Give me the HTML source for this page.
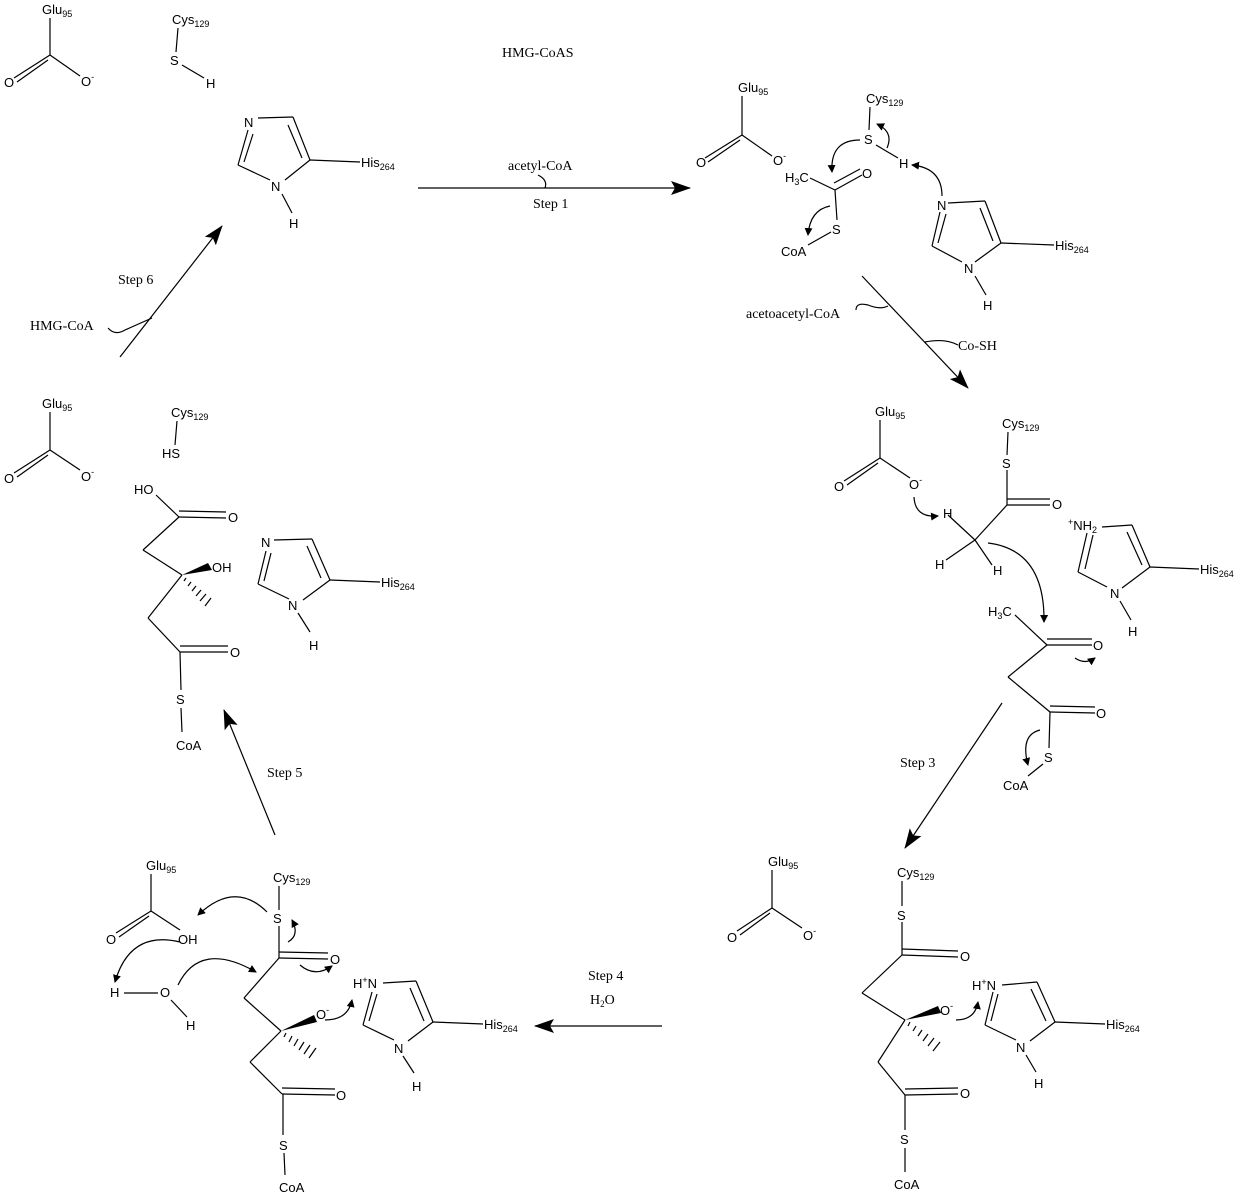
<!DOCTYPE html>
<html><head><meta charset="utf-8"><style>
html,body{margin:0;padding:0;background:#fff}
svg{display:block}
.s{font-family:"Liberation Sans",sans-serif;font-size:13px}
.r{font-family:"Liberation Serif",serif;font-size:14px}
.sub{font-size:9px}
line,polyline,polygon,path{stroke:#000;stroke-width:1.2;fill:none}
.h{fill:#000;stroke:none}
</style></head><body>
<svg width="1240" height="1198" viewBox="0 0 1240 1198" xmlns="http://www.w3.org/2000/svg">
<defs>
<marker id="a" markerWidth="8" markerHeight="8" refX="7" refY="4" orient="auto" markerUnits="userSpaceOnUse"><path d="M0,0 L8,4 L0,8 Z" class="h"/></marker>
<marker id="b" markerWidth="20" markerHeight="14" refX="19" refY="7" orient="auto" markerUnits="userSpaceOnUse"><path d="M0,0 L20,7 L0,14 L4,7 Z" class="h"/></marker>
</defs>

<!-- Panel 1 top-left -->
<text x="42" y="14" class="s">Glu<tspan class="sub" dy="3">95</tspan></text>
<line x1="50" y1="18" x2="50" y2="55"/><line x1="50" y1="55" x2="14" y2="78"/><line x1="48" y1="60" x2="17" y2="82"/><line x1="50" y1="55" x2="80" y2="76"/>
<text x="4" y="87" class="s">O</text><text x="81" y="86" class="s">O<tspan class="sub" dy="-6">-</tspan></text>
<text x="172" y="24" class="s">Cys<tspan class="sub" dy="3">129</tspan></text>
<line x1="178" y1="28" x2="176" y2="52"/><text x="170" y="65" class="s">S</text><line x1="182" y1="65" x2="204" y2="78"/><text x="206" y="88" class="s">H</text>
<text x="502" y="57" class="r">HMG-CoAS</text>
<!-- imidazole 1 -->
<text x="244" y="127" class="s">N</text>
<line x1="258" y1="118" x2="293" y2="117"/><line x1="293" y1="117" x2="310" y2="160"/><line x1="288" y1="125" x2="302" y2="158"/>
<line x1="310" y1="160" x2="285" y2="180"/><line x1="270" y1="180" x2="238" y2="165"/><line x1="238" y1="165" x2="248" y2="130"/><line x1="244" y1="162" x2="253" y2="134"/>
<text x="271" y="191" class="s">N</text><line x1="282" y1="194" x2="292" y2="213"/><text x="289" y="228" class="s">H</text>
<line x1="310" y1="160" x2="360" y2="162"/><text x="361" y="167" class="s">His<tspan class="sub" dy="3">264</tspan></text>

<!-- Step 1 -->
<line x1="418" y1="188" x2="690" y2="188" marker-end="url(#b)"/>
<path d="M538,175 Q548,180 545,188"/>
<text x="508" y="170" class="r">acetyl-CoA</text>
<text x="533" y="208" class="r">Step 1</text>

<!-- Panel 2 -->
<text x="738" y="92" class="s">Glu<tspan class="sub" dy="3">95</tspan></text>
<line x1="742" y1="96" x2="742" y2="135"/><line x1="742" y1="135" x2="705" y2="158"/><line x1="740" y1="140" x2="708" y2="162"/><line x1="742" y1="135" x2="772" y2="156"/>
<text x="696" y="167" class="s">O</text><text x="773" y="165" class="s">O<tspan class="sub" dy="-6">-</tspan></text>
<text x="866" y="103" class="s">Cys<tspan class="sub" dy="3">129</tspan></text>
<line x1="870" y1="107" x2="869" y2="130"/><text x="864" y="144" class="s">S</text><line x1="876" y1="145" x2="898" y2="158"/><text x="899" y="168" class="s">H</text>
<text x="785" y="182" class="s">H<tspan class="sub" dy="3">3</tspan><tspan dy="-3">C</tspan></text>
<line x1="810" y1="178" x2="835" y2="190"/><line x1="835" y1="190" x2="862" y2="175"/><line x1="834" y1="183" x2="860" y2="169"/>
<text x="862" y="178" class="s">O</text>
<line x1="835" y1="190" x2="837" y2="220"/><text x="832" y="234" class="s">S</text>
<line x1="831" y1="232" x2="808" y2="245"/><text x="781" y="256" class="s">CoA</text>
<path d="M887,148 Q894,132 877,124" marker-end="url(#a)"/>
<path d="M860,140 Q830,140 832,172" marker-end="url(#a)"/>
<path d="M830,206 Q810,210 808,235" marker-end="url(#a)"/>
<path d="M942,196 Q942,168 912,165" marker-end="url(#a)"/>
<text x="937" y="210" class="s">N</text>
<line x1="948" y1="203" x2="985" y2="201"/><line x1="985" y1="201" x2="1001" y2="243"/><line x1="980" y1="208" x2="993" y2="241"/>
<line x1="1001" y1="243" x2="975" y2="262"/><line x1="962" y1="262" x2="932" y2="246"/><line x1="932" y1="246" x2="940" y2="212"/><line x1="938" y1="243" x2="946" y2="214"/>
<text x="964" y="273" class="s">N</text><line x1="975" y1="276" x2="986" y2="295"/><text x="983" y="310" class="s">H</text>
<line x1="1001" y1="243" x2="1054" y2="245"/><text x="1055" y="250" class="s">His<tspan class="sub" dy="3">264</tspan></text>

<!-- Step 2 -->
<line x1="862" y1="276" x2="968" y2="388" marker-end="url(#b)"/>
<path d="M856,310 Q856,302 868,305 Q880,310 888,306"/>
<path d="M925,342 Q945,338 958,345"/>
<text x="746" y="318" class="r">acetoacetyl-CoA</text>
<text x="958" y="350" class="r">Co-SH</text>

<!-- Panel 3 -->
<text x="875" y="416" class="s">Glu<tspan class="sub" dy="3">95</tspan></text>
<line x1="880" y1="420" x2="880" y2="458"/><line x1="880" y1="458" x2="844" y2="481"/><line x1="878" y1="463" x2="847" y2="485"/><line x1="880" y1="458" x2="910" y2="478"/>
<text x="834" y="491" class="s">O</text><text x="909" y="489" class="s">O<tspan class="sub" dy="-6">-</tspan></text>
<text x="1002" y="428" class="s">Cys<tspan class="sub" dy="3">129</tspan></text>
<line x1="1008" y1="432" x2="1007" y2="455"/><text x="1002" y="468" class="s">S</text>
<line x1="1007" y1="470" x2="1007" y2="505"/><line x1="1007" y1="505" x2="1050" y2="505"/><line x1="1007" y1="499" x2="1050" y2="499"/>
<text x="1052" y="509" class="s">O</text>
<line x1="1007" y1="505" x2="975" y2="540"/><line x1="975" y1="540" x2="948" y2="515"/><line x1="975" y1="540" x2="946" y2="560"/><line x1="975" y1="540" x2="992" y2="565"/>
<text x="943" y="518" class="s">H</text><text x="935" y="569" class="s">H</text><text x="993" y="575" class="s">H</text>
<path d="M914,497 Q915,518 938,516" marker-end="url(#a)"/>
<path d="M988,543 Q1045,550 1044,622" marker-end="url(#a)"/>
<text x="1068" y="530" class="s"><tspan class="sub" dy="-5">+</tspan><tspan dy="5">NH</tspan><tspan class="sub" dy="3">2</tspan></text>
<line x1="1102" y1="527" x2="1132" y2="525"/><line x1="1132" y1="525" x2="1150" y2="567"/><line x1="1127" y1="532" x2="1142" y2="565"/>
<line x1="1150" y1="567" x2="1122" y2="588"/><line x1="1107" y1="587" x2="1078" y2="572"/><line x1="1078" y1="572" x2="1087" y2="533"/><line x1="1085" y1="569" x2="1093" y2="535"/>
<text x="1110" y="598" class="s">N</text><line x1="1120" y1="601" x2="1131" y2="620"/><text x="1128" y="636" class="s">H</text>
<line x1="1150" y1="567" x2="1199" y2="569"/><text x="1200" y="574" class="s">His<tspan class="sub" dy="3">264</tspan></text>
<text x="988" y="616" class="s">H<tspan class="sub" dy="3">3</tspan><tspan dy="-3">C</tspan></text>
<line x1="1015" y1="615" x2="1047" y2="645"/><line x1="1047" y1="645" x2="1092" y2="645"/><line x1="1047" y1="639" x2="1092" y2="639"/><text x="1093" y="650" class="s">O</text>
<line x1="1047" y1="645" x2="1008" y2="677"/><line x1="1008" y1="677" x2="1050" y2="712"/>
<line x1="1050" y1="712" x2="1095" y2="713"/><line x1="1050" y1="706" x2="1095" y2="707"/><text x="1096" y="718" class="s">O</text>
<line x1="1050" y1="712" x2="1049" y2="748"/><text x="1044" y="762" class="s">S</text><line x1="1043" y1="764" x2="1028" y2="776"/><text x="1003" y="790" class="s">CoA</text>
<path d="M1075,658 Q1085,665 1095,658" marker-end="url(#a)"/>
<path d="M1040,730 Q1020,735 1028,765" marker-end="url(#a)"/>

<!-- Step 3 -->
<line x1="1002" y1="703" x2="905" y2="848" marker-end="url(#b)"/>
<text x="900" y="767" class="r">Step 3</text>

<!-- Panel 4 -->
<text x="768" y="866" class="s">Glu<tspan class="sub" dy="3">95</tspan></text>
<line x1="772" y1="870" x2="772" y2="908"/><line x1="772" y1="908" x2="737" y2="931"/><line x1="770" y1="913" x2="740" y2="935"/><line x1="772" y1="908" x2="802" y2="928"/>
<text x="727" y="942" class="s">O</text><text x="803" y="940" class="s">O<tspan class="sub" dy="-6">-</tspan></text>
<text x="897" y="877" class="s">Cys<tspan class="sub" dy="3">129</tspan></text>
<line x1="902" y1="881" x2="902" y2="906"/><text x="897" y="920" class="s">S</text>
<line x1="902" y1="922" x2="902" y2="955"/><line x1="902" y1="955" x2="958" y2="957"/><line x1="902" y1="949" x2="958" y2="951"/><text x="960" y="961" class="s">O</text>
<line x1="902" y1="955" x2="862" y2="993"/><line x1="862" y1="993" x2="905" y2="1020"/>
<polygon points="905,1020 938,1006 941,1013" class="h"/><text x="940" y="1015" class="s">O<tspan class="sub" dy="-6">-</tspan></text>
<g stroke="#000" stroke-width="1"><line x1="910" y1="1022" x2="908" y2="1026"/><line x1="916" y1="1026" x2="913" y2="1031"/><line x1="922" y1="1030" x2="918" y2="1036"/><line x1="928" y1="1034" x2="923" y2="1041"/><line x1="934" y1="1038" x2="928" y2="1046"/><line x1="940" y1="1042" x2="933" y2="1051"/></g>
<line x1="905" y1="1020" x2="878" y2="1062"/><line x1="878" y1="1062" x2="905" y2="1095"/>
<line x1="905" y1="1095" x2="958" y2="1094"/><line x1="905" y1="1089" x2="958" y2="1088"/><text x="960" y="1098" class="s">O</text>
<line x1="905" y1="1095" x2="905" y2="1130"/><text x="900" y="1144" class="s">S</text><line x1="905" y1="1148" x2="905" y2="1172"/><text x="894" y="1189" class="s">CoA</text>
<path d="M956,1020 Q975,1020 978,1002" marker-end="url(#a)"/>
<text x="972" y="990" class="s">H<tspan class="sub" dy="-5">+</tspan><tspan dy="5">N</tspan></text>
<line x1="1002" y1="985" x2="1037" y2="982"/><line x1="1037" y1="982" x2="1055" y2="1022"/><line x1="1031" y1="989" x2="1046" y2="1021"/>
<line x1="1055" y1="1022" x2="1030" y2="1041"/><line x1="1016" y1="1040" x2="985" y2="1025"/><line x1="985" y1="1025" x2="993" y2="992"/><line x1="991" y1="1021" x2="998" y2="994"/>
<text x="1016" y="1052" class="s">N</text><line x1="1026" y1="1055" x2="1036" y2="1072"/><text x="1034" y="1088" class="s">H</text>
<line x1="1055" y1="1022" x2="1105" y2="1024"/><text x="1106" y="1029" class="s">His<tspan class="sub" dy="3">264</tspan></text>

<!-- Step 4 -->
<line x1="662" y1="1026" x2="535" y2="1026" marker-end="url(#b)"/>
<text x="588" y="980" class="r">Step 4</text>
<text x="590" y="1004" class="r">H<tspan class="sub" dy="3">2</tspan><tspan dy="-3">O</tspan></text>

<!-- Panel 5 bottom-left -->
<text x="146" y="870" class="s">Glu<tspan class="sub" dy="3">95</tspan></text>
<line x1="151" y1="874" x2="151" y2="911"/><line x1="151" y1="911" x2="116" y2="933"/><line x1="149" y1="916" x2="119" y2="937"/><line x1="151" y1="911" x2="180" y2="930"/>
<text x="106" y="944" class="s">O</text><text x="178" y="944" class="s">OH</text>
<text x="273" y="882" class="s">Cys<tspan class="sub" dy="3">129</tspan></text>
<line x1="279" y1="886" x2="279" y2="910"/><text x="273" y="923" class="s">S</text>
<line x1="279" y1="926" x2="279" y2="958"/><line x1="279" y1="958" x2="328" y2="959"/><line x1="279" y1="952" x2="328" y2="953"/><text x="330" y="964" class="s">O</text>
<line x1="279" y1="958" x2="244" y2="998"/><line x1="244" y1="998" x2="281" y2="1031"/>
<polygon points="281,1031 314,1015 317,1022" class="h"/><text x="316" y="1019" class="s">O<tspan class="sub" dy="-6">-</tspan></text>
<g stroke="#000" stroke-width="1"><line x1="286" y1="1033" x2="284" y2="1037"/><line x1="292" y1="1036" x2="289" y2="1042"/><line x1="298" y1="1039" x2="294" y2="1046"/><line x1="304" y1="1042" x2="299" y2="1050"/><line x1="310" y1="1045" x2="304" y2="1054"/><line x1="316" y1="1048" x2="309" y2="1058"/></g>
<line x1="281" y1="1031" x2="250" y2="1062"/><line x1="250" y1="1062" x2="282" y2="1094"/>
<line x1="282" y1="1094" x2="335" y2="1095"/><line x1="282" y1="1088" x2="335" y2="1089"/><text x="336" y="1100" class="s">O</text>
<line x1="283" y1="1094" x2="283" y2="1135"/><text x="279" y="1150" class="s">S</text><line x1="284" y1="1153" x2="285" y2="1175"/><text x="279" y="1192" class="s">CoA</text>
<text x="110" y="997" class="s">H</text><line x1="124" y1="993" x2="158" y2="993"/><text x="160" y="997" class="s">O</text><line x1="171" y1="1000" x2="187" y2="1017"/><text x="186" y="1030" class="s">H</text>
<path d="M267,912 Q235,880 198,915" marker-end="url(#a)"/>
<path d="M288,942 Q300,935 292,920" marker-end="url(#a)"/>
<path d="M180,942 Q130,930 115,982" marker-end="url(#a)"/>
<path d="M178,985 Q200,940 256,972" marker-end="url(#a)"/>
<path d="M300,965 Q315,978 332,966" marker-end="url(#a)"/>
<path d="M325,1020 Q348,1020 352,1000" marker-end="url(#a)"/>
<text x="353" y="988" class="s">H<tspan class="sub" dy="-5">+</tspan><tspan dy="5">N</tspan></text>
<line x1="383" y1="983" x2="416" y2="981"/><line x1="416" y1="981" x2="433" y2="1022"/><line x1="410" y1="988" x2="424" y2="1021"/>
<line x1="433" y1="1022" x2="408" y2="1041"/><line x1="394" y1="1040" x2="363" y2="1025"/><line x1="363" y1="1025" x2="372" y2="992"/><line x1="369" y1="1021" x2="377" y2="994"/>
<text x="394" y="1053" class="s">N</text><line x1="403" y1="1056" x2="414" y2="1073"/><text x="412" y="1091" class="s">H</text>
<line x1="433" y1="1022" x2="483" y2="1024"/><text x="484" y="1029" class="s">His<tspan class="sub" dy="3">264</tspan></text>

<!-- Step 5 -->
<line x1="275" y1="835" x2="224" y2="710" marker-end="url(#b)"/>
<text x="267" y="777" class="r">Step 5</text>

<!-- Panel 6 left middle -->
<text x="42" y="408" class="s">Glu<tspan class="sub" dy="3">95</tspan></text>
<line x1="50" y1="412" x2="50" y2="450"/><line x1="50" y1="450" x2="14" y2="473"/><line x1="48" y1="455" x2="17" y2="477"/><line x1="50" y1="450" x2="80" y2="470"/>
<text x="4" y="483" class="s">O</text><text x="81" y="481" class="s">O<tspan class="sub" dy="-6">-</tspan></text>
<text x="171" y="417" class="s">Cys<tspan class="sub" dy="3">129</tspan></text>
<line x1="177" y1="421" x2="175" y2="445"/><text x="162" y="458" class="s">HS</text>
<text x="134" y="494" class="s">HO</text><line x1="156" y1="495" x2="179" y2="517"/>
<line x1="179" y1="517" x2="226" y2="518"/><line x1="179" y1="511" x2="226" y2="512"/><text x="228" y="522" class="s">O</text>
<line x1="179" y1="517" x2="143" y2="550"/><line x1="143" y1="550" x2="182" y2="575"/>
<polygon points="182,575 208,563 212,570" class="h"/><text x="212" y="572" class="s">OH</text>
<g stroke="#000" stroke-width="1"><line x1="186" y1="578" x2="184" y2="581"/><line x1="191" y1="582" x2="188" y2="586"/><line x1="196" y1="586" x2="192" y2="591"/><line x1="201" y1="590" x2="196" y2="596"/><line x1="206" y1="594" x2="200" y2="601"/><line x1="211" y1="598" x2="205" y2="606"/></g>
<line x1="182" y1="575" x2="148" y2="618"/><line x1="148" y1="618" x2="180" y2="652"/>
<line x1="180" y1="652" x2="228" y2="652"/><line x1="180" y1="646" x2="228" y2="646"/><text x="230" y="657" class="s">O</text>
<line x1="180" y1="652" x2="181" y2="690"/><text x="176" y="704" class="s">S</text><line x1="181" y1="708" x2="182" y2="732"/><text x="176" y="750" class="s">CoA</text>
<text x="261" y="547" class="s">N</text>
<line x1="274" y1="540" x2="312" y2="539"/><line x1="312" y1="539" x2="330" y2="580"/><line x1="307" y1="546" x2="321" y2="578"/>
<line x1="330" y1="580" x2="303" y2="600"/><line x1="289" y1="599" x2="258" y2="584"/><line x1="258" y1="584" x2="266" y2="551"/><line x1="264" y1="581" x2="271" y2="553"/>
<text x="288" y="610" class="s">N</text><line x1="298" y1="613" x2="310" y2="632"/><text x="309" y="650" class="s">H</text>
<line x1="330" y1="580" x2="380" y2="582"/><text x="381" y="587" class="s">His<tspan class="sub" dy="3">264</tspan></text>

<!-- Step 6 -->
<line x1="120" y1="357" x2="222" y2="226" marker-end="url(#b)"/>
<path d="M108,328 Q115,336 125,330 L152,318"/>
<text x="118" y="284" class="r">Step 6</text>
<text x="30" y="330" class="r">HMG-CoA</text>
</svg>
</body></html>
